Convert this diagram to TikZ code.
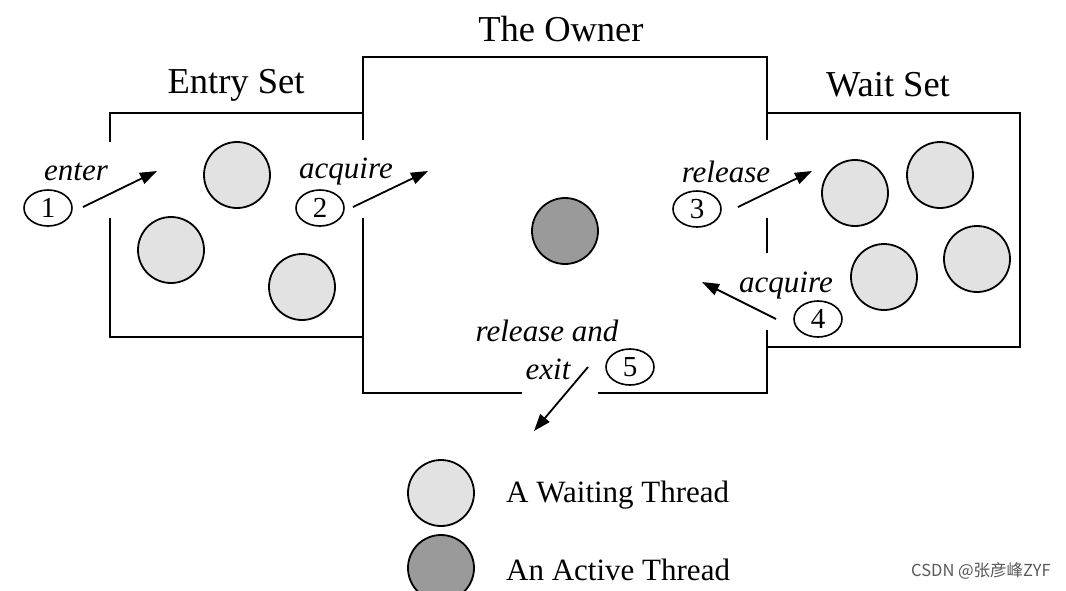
\documentclass[tikz,border=0pt]{standalone}
\usepackage{fontspec}
\setmainfont{Liberation Serif}
\newfontfamily\cjkfont{Noto Sans CJK SC}
\usetikzlibrary{shapes.geometric,arrows.meta}
\definecolor{waitfill}{HTML}{E2E2E2}
\definecolor{activefill}{HTML}{9A9A9A}
\tikzset{
  wall/.style={line width=2.4pt, line cap=butt},
  waiting/.style={circle, draw, line width=1.8pt, fill=waitfill, minimum size=66pt, inner sep=0pt},
  active/.style={circle, draw, line width=1.8pt, fill=activefill, minimum size=66pt, inner sep=0pt},
  numbox/.style={ellipse, draw, line width=1.6pt, minimum width=48pt, minimum height=36pt, inner sep=0pt, font=\fontsize{29}{30}\selectfont},
  lbl/.style={font=\fontsize{31}{34}\selectfont\itshape, inner sep=0pt},
  title/.style={font=\fontsize{36.5}{40}\selectfont, inner sep=0pt},
  legend/.style={font=\fontsize{31}{34}\selectfont, inner sep=0pt, anchor=west},
  flow/.style={line width=1.8pt, -{Triangle[length=17pt,width=12pt]}}
}
\begin{document}
\begin{tikzpicture}[x=1pt,y=-1pt]
\useasboundingbox (0,0) rectangle (1066,590);
\clip (0,0) rectangle (1066,590);
\fill[white] (0,0) rectangle (1066,590);
% Entry set walls
\draw[wall] (110,142) -- (110,113) -- (363,113);
\draw[wall] (110,218) -- (110,337) -- (363,337);
% Owner walls
\draw[wall] (363,140) -- (363,57) -- (767,57) -- (767,140);
\draw[wall] (363,218) -- (363,393) -- (522,393);
\draw[wall] (598,393) -- (767,393) -- (767,330);
\draw[wall] (767,218) -- (767,253);
% Wait set walls
\draw[wall] (767,113) -- (1020,113) -- (1020,347) -- (767,347);
% titles
\node[title] (tOwner) at (561,29) {The Owner};
\node[title] (tEntry) at (236,85) {Entry Set};
\node[title] (tWait) at (888,85) {Wait Set};
% threads
\node[waiting] (e1) at (237,175) {};
\node[waiting] (e2) at (171,250) {};
\node[waiting] (e3) at (302,287) {};
\node[active] (own) at (565,231) {};
\node[waiting] (w1) at (855,193) {};
\node[waiting] (w2) at (940,175) {};
\node[waiting] (w3) at (884,277) {};
\node[waiting] (w4) at (977,259) {};
% numbered steps
\node[numbox] (n1) at (48,208) {1};
\node[numbox] (n2) at (320,208) {2};
\node[numbox] (n3) at (697,209) {3};
\node[numbox] (n4) at (818,319) {4};
\node[numbox] (n5) at (630,367) {5};
\node[lbl] (l1) at (76,172) {enter};
\node[lbl] (l2) at (346,172) {acquire};
\node[lbl] (l3) at (726,172) {release};
\node[lbl] (l4) at (786,286) {acquire};
\node[lbl] (l5a) at (547,331) {release and};
\node[lbl] (l5b) at (548,369) {exit};
% arrows
\coordinate (a1s) at (83,207); \coordinate (a1e) at (157,171);
\coordinate (a2s) at (353,207); \coordinate (a2e) at (428,171);
\coordinate (a3s) at (738,207); \coordinate (a3e) at (812,171);
\coordinate (a4s) at (776,319); \coordinate (a4e) at (702,282);
\coordinate (a5s) at (588,367); \coordinate (a5e) at (534,431);
\draw[flow] (a1s) -- (a1e);
\draw[flow] (a2s) -- (a2e);
\draw[flow] (a3s) -- (a3e);
\draw[flow] (a4s) -- (a4e);
\draw[flow] (a5s) -- (a5e);
% legend
\node[waiting] (lw) at (441,493) {};
\node[active] (la) at (441,568) {};
\node[legend] (lwt) at (506,495) {A Waiting Thread};
\node[legend] (lat) at (506,570) {An Active Thread};
\node[font=\cjkfont\fontsize{16.5}{18}\selectfont, text=black!65, anchor=east, inner sep=0pt] (wm) at (1051,571) {CSDN @张彦峰ZYF};
\end{tikzpicture}
\end{document}
